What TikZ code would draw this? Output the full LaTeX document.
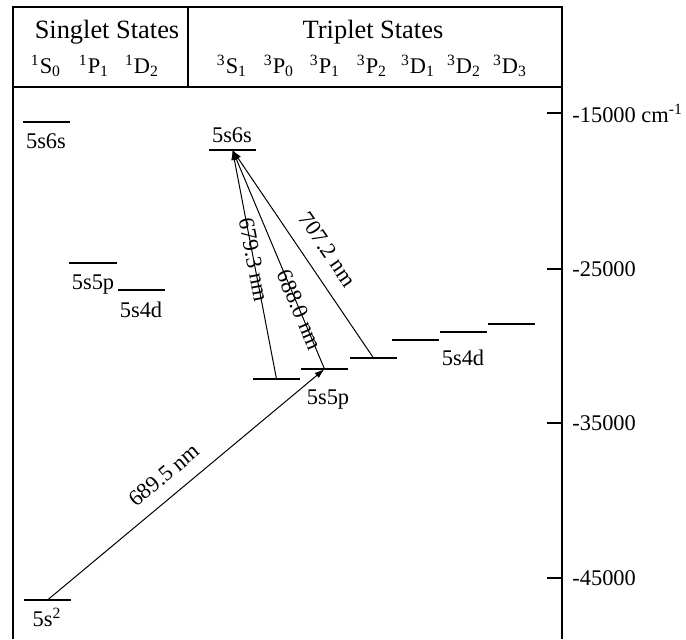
\documentclass[tikz,border=0pt]{standalone}
\usepackage{fontspec}
\setmainfont{Liberation Serif}
\usetikzlibrary{arrows.meta}

\begin{document}
\begin{tikzpicture}[x=0.5pt, y=-0.5pt, font=\fontsize{11.2}{13}\selectfont,
  lvl/.style={line width=0.55pt},
  trans/.style={-{Latex[length=5pt,width=3.2pt]}, line width=0.5pt},
  lbl/.style={inner sep=0pt, anchor=base},
  head/.style={lbl, font=\fontsize{13.2}{15}\selectfont},
  nm/.style={sloped, inner sep=1.5pt}]
  \useasboundingbox (0,0) rectangle (686,639);
  % Frame and header
  \draw[line width=0.8pt] (13,639) |- (562,7) -- (562,639);
  \draw[line width=0.8pt] (13,87) -- (562,87);
  \draw[line width=0.8pt] (188,7) -- (188,87);
  \node[head] (sing) at (107,38) {Singlet States};
  \node[head] (trip) at (373,38) {Triplet States};
  % Term symbols
  \foreach \x/\t [count=\i] in {46/{\textsuperscript{1}S\textsubscript{0}},
      94/{\textsuperscript{1}P\textsubscript{1}}, 142/{\textsuperscript{1}D\textsubscript{2}},
      232/{\textsuperscript{3}S\textsubscript{1}}, 279/{\textsuperscript{3}P\textsubscript{0}},
      325/{\textsuperscript{3}P\textsubscript{1}}, 372/{\textsuperscript{3}P\textsubscript{2}},
      418/{\textsuperscript{3}D\textsubscript{1}}, 464/{\textsuperscript{3}D\textsubscript{2}},
      510/{\textsuperscript{3}D\textsubscript{3}}}
    \node[lbl] (term\i) at (\x,73) {\t};
  % Energy axis
  \foreach \y/\e [count=\i] in {113/{-15000 cm\textsuperscript{-1}}, 269/-25000,
      423/-35000, 578/-45000} {
    \draw[line width=0.6pt] (547,\y) -- (562,\y);
    \node[anchor=west, inner sep=0pt] (tick\i) at (572,\y) {\e};
  }
  % Singlet levels
  \draw[lvl] (24,600) -- coordinate (gnd) (71,600);
  \draw[lvl] (23,122) -- coordinate (s6s) (70,122);
  \draw[lvl] (69,263) -- coordinate (s5p) (117,263);
  \draw[lvl] (118,290) -- coordinate (s4d) (165,290);
  % Triplet levels
  \draw[lvl] (209,150) -- coordinate (t6s) (256,150);
  \draw[lvl] (253,379) -- coordinate (tp0) (300,379);
  \draw[lvl] (301,369) -- coordinate (tp1) (348,369);
  \draw[lvl] (350,358) -- coordinate (tp2) (397,358);
  \draw[lvl] (392,340) -- coordinate (td1) (439,340);
  \draw[lvl] (440,332) -- coordinate (td2) (487,332);
  \draw[lvl] (488,324) -- coordinate (td3) (535,324);
  % Level names
  \node[lbl] (n6s) at (46,148) {5s6s};
  \node[lbl] (n5p) at (93,289) {5s5p};
  \node[lbl] (n4d) at (141,317) {5s4d};
  \node[lbl] (ngnd) at (47,626) {5s\textsuperscript{2}};
  \node[lbl] (m6s) at (232,142) {5s6s};
  \node[lbl] (m5p) at (328,404) {5s5p};
  \node[lbl] (m4d) at (463,365) {5s4d};
  % Transitions
  \draw[trans] (gnd) -- node[nm, above=5pt, pos=0.47] (w1) {689.5 nm} (tp1);
  \draw[trans] (tp0) -- node[nm, pos=0.52] (w2) {679.3 nm} (t6s);
  \draw[trans] (tp1) -- node[nm, pos=0.27] (w3) {688.0 nm} (t6s);
  \draw[trans] (tp2) -- node[nm, above=6pt, pos=0.46] (w4) {707.2 nm} (t6s);
\end{tikzpicture}
\end{document}
